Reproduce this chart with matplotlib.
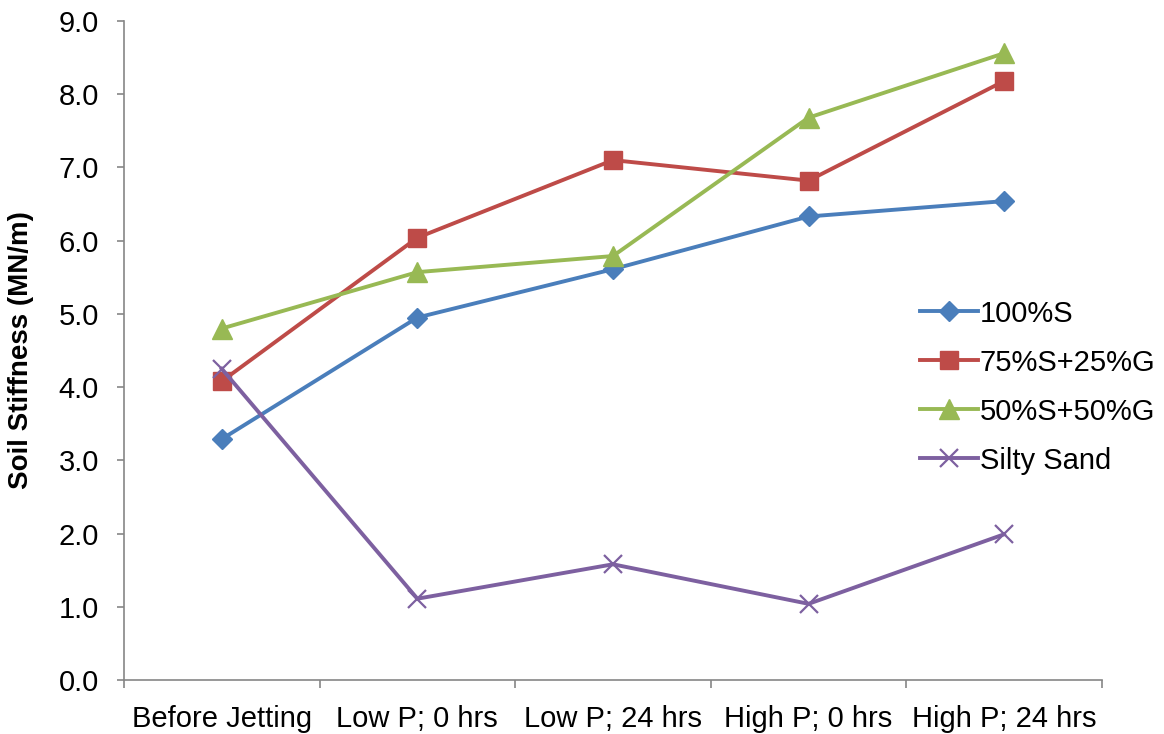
import matplotlib
matplotlib.use("Agg")
import matplotlib.pyplot as plt
import numpy as np

plt.rcParams['font.family'] = ['Liberation Sans', 'DejaVu Sans']

categories = ["Before Jetting", "Low P; 0 hrs", "Low P; 24 hrs", "High P; 0 hrs", "High P; 24 hrs"]
s100 = [3.29, 4.95, 5.61, 6.33, 6.54]
s75g25 = [4.08, 6.04, 7.10, 6.82, 8.18]
s50g50 = [4.80, 5.57, 5.79, 7.68, 8.56]
silty = [4.25, 1.11, 1.58, 1.04, 1.99]
yticks = np.arange(0, 9.01, 1.0)

fig = plt.figure(figsize=(11.64, 7.34), dpi=100)
ax = fig.add_axes([0.1065, 0.0736, 0.8402, 0.8978])

x = np.arange(len(categories))
ax.plot(x, s100, color='#4A7EBB', lw=2.8, marker='D', ms=10.5, label='100%S')
ax.plot(x, s75g25, color='#BE4B48', lw=2.8, marker='s', ms=13, label='75%S+25%G')
ax.plot(x, s50g50, color='#98B954', lw=2.8, marker='^', ms=14, label='50%S+50%G')
ax.plot(x, silty, color='#7D60A0', lw=2.8, marker='x', ms=13, mew=1.6, label='Silty Sand')

ax.set_xlim(-0.5, len(categories) - 0.5)
ax.set_ylim(0, 9)
ax.set_yticks(yticks)
ax.set_yticklabels([f"{v:.1f}" for v in yticks])
ax.set_xticks(x)
ax.set_xticklabels(categories)
ax.set_xticks(np.arange(-0.5, len(categories)), minor=True)
ax.tick_params(axis='x', which='major', length=0, labelsize=21, pad=18)
ax.tick_params(axis='x', which='minor', length=6, width=1.2, color='#868686')
ax.tick_params(axis='y', length=5, width=1.2, color='#868686', labelsize=21, pad=13)

for side in ['top', 'right']:
    ax.spines[side].set_visible(False)
for side in ['left', 'bottom']:
    ax.spines[side].set_color('#868686')
    ax.spines[side].set_linewidth(1.2)

ax.set_ylabel('Soil Stiffness (MN/m)', fontsize=20, fontweight='bold')
ax.yaxis.set_label_coords(-0.092, 0.5)

ax.legend(loc='upper left', bbox_to_anchor=(0.802, 0.595), frameon=False, fontsize=21,
          handlelength=2.0, handletextpad=0.05, labelspacing=0.72, borderaxespad=0)

fig.savefig('out.png', dpi=100)
